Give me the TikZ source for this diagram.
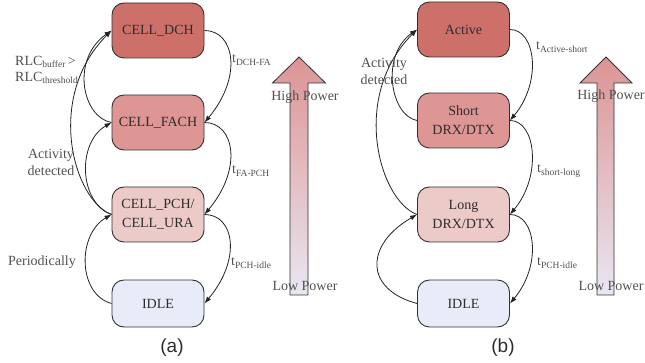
\documentclass[tikz,border=0pt]{standalone}
\usepackage{fontspec}
\setmainfont{Liberation Serif}
\newfontfamily\capfont{Liberation Sans}
\usetikzlibrary{arrows.meta}

\definecolor{stHigh}{RGB}{206,112,106}
\definecolor{stMid}{RGB}{221,150,147}
\definecolor{stLow}{RGB}{236,202,200}
\definecolor{stIdle}{RGB}{232,236,248}
\definecolor{edgegray}{RGB}{50,50,50}
\definecolor{linedark}{RGB}{35,35,35}
\definecolor{txtdark}{RGB}{45,45,45}
\definecolor{lblgray}{RGB}{80,80,80}
\definecolor{arrTop}{RGB}{220,148,148}
\definecolor{arrBot}{RGB}{233,231,242}

% small lowered subscript used in the timer labels
\newcommand\sbs[1]{\raisebox{-0.4ex}{\fontsize{9.5}{10}\selectfont #1}}

\begin{document}
\begin{tikzpicture}[x=1pt,y=1pt,
  state/.style={draw=edgegray, line width=0.9pt, rounded corners=12pt,
    minimum width=92pt, minimum height=55pt, align=center,
    font=\fontsize{14}{19}\selectfont, text=txtdark, inner sep=2pt},
  idlestate/.style={state, minimum height=47pt, fill=stIdle},
  trans/.style={-{Latex[length=7pt,width=5pt]}, line width=0.8pt, draw=linedark},
  lbl/.style={font=\fontsize{14}{17}\selectfont, text=lblgray, align=center, inner sep=0pt},
  tlbl/.style={lbl, anchor=west},
  powerarrow/.style={top color=arrTop, bottom color=arrBot, draw=edgegray,
    line width=0.8pt, line join=miter},
  caption/.style={font=\capfont\fontsize{19}{21}\selectfont, text=txtdark}
]
\useasboundingbox (0,0) rectangle (645,-363);

% ---------- (a) RRC states ----------
\node[state, fill=stHigh] (dch)  at (158,-30.5)  {CELL\_DCH};
\node[state, fill=stMid]  (fach) at (158,-122.5) {CELL\_FACH};
\node[state, fill=stLow]  (pch)  at (158,-214.5) {CELL\_PCH/\\CELL\_URA};
\node[idlestate]          (idle) at (158,-303.5) {IDLE};

% timer-driven demotions
\draw[trans] (dch.east)  to[out=0,in=50,out distance=30pt,in distance=60pt] (fach.east);
\draw[trans] (fach.east) to[out=0,in=50,out distance=30pt,in distance=60pt] (pch.east);
\draw[trans] (pch.east)  to[out=0,in=50,out distance=30pt,in distance=58pt] (idle.east);

% promotions
\draw[trans] (fach.west) to[out=170,in=215,out distance=30pt,in distance=50pt] (dch.west);
\draw[trans] (pch.west)  to[out=160,in=225,out distance=40pt,in distance=95pt] (dch.west);
\draw[trans] (pch.west)  to[out=160,in=210,out distance=35pt,in distance=40pt] (fach.west);
\draw[trans] (idle.west) to[out=165,in=210,out distance=35pt,in distance=40pt] (pch.west);

\node[tlbl] (la1) at (232,-60)  {t\sbs{DCH-FA}};
\node[tlbl] (la2) at (232,-171) {t\sbs{FA-PCH}};
\node[tlbl] (la3) at (231,-263) {t\sbs{PCH-idle}};

\node[lbl, align=left, anchor=west] (la4) at (15,-70)
  {RLC\sbs{buffer}\,>\\[-1pt]RLC\sbs{threshold}};
\node[lbl] (la5) at (51,-162) {Activity\\detected};
\node[lbl] (la6) at (42,-262) {Periodically};

% power scale
\shadedraw[powerarrow] (290,-295) -- (290,-83) -- (272.5,-83) -- (299,-57)
  -- (325.5,-83) -- (308,-83) -- (308,-295) -- cycle;
\node[lbl] (hpa) at (305,-97)  {High Power};
\node[lbl] (lpa) at (305,-286) {Low Power};

\node[caption] (capa) at (172,-348) {(a)};

% ---------- (b) LTE states ----------
\node[state, fill=stHigh] (act)   at (463.5,-29.5)  {Active};
\node[state, fill=stMid]  (short) at (463.5,-120.5) {Short\\DRX/DTX};
\node[state, fill=stLow]  (long)  at (463.5,-214.5) {Long\\DRX/DTX};
\node[idlestate]          (idleb) at (463.5,-303.5) {IDLE};

\draw[trans] (act.east)   to[out=0,in=50,out distance=26pt,in distance=50pt] (short.east);
\draw[trans] (short.east) to[out=0,in=50,out distance=26pt,in distance=50pt] (long.east);
\draw[trans] (long.east)  to[out=0,in=50,out distance=26pt,in distance=50pt] (idleb.east);

\draw[trans] (short.west) to[out=170,in=215,out distance=27pt,in distance=45pt] (act.west);
\draw[trans] (long.west)  to[out=160,in=225,out distance=40pt,in distance=95pt] (act.west);
\draw[trans] (idleb.west) to[out=165,in=210,out distance=55pt,in distance=60pt] (long.west);

\node[tlbl] (lb1) at (536,-47)  {t\sbs{Active-short}};
\node[tlbl] (lb2) at (537,-171) {t\sbs{short-long}};
\node[tlbl] (lb3) at (537,-263) {t\sbs{PCH-idle}};
\node[lbl] (lb4) at (384,-71) {Activity\\detected};

\shadedraw[powerarrow] (597,-295) -- (597,-83) -- (580,-83) -- (606,-57)
  -- (632,-83) -- (614,-83) -- (614,-295) -- cycle;
\node[lbl] (hpb) at (611,-96)  {High Power};
\node[lbl] (lpb) at (611,-286) {Low Power};

\node[caption] (capb) at (503,-348) {(b)};
\end{tikzpicture}
\end{document}
